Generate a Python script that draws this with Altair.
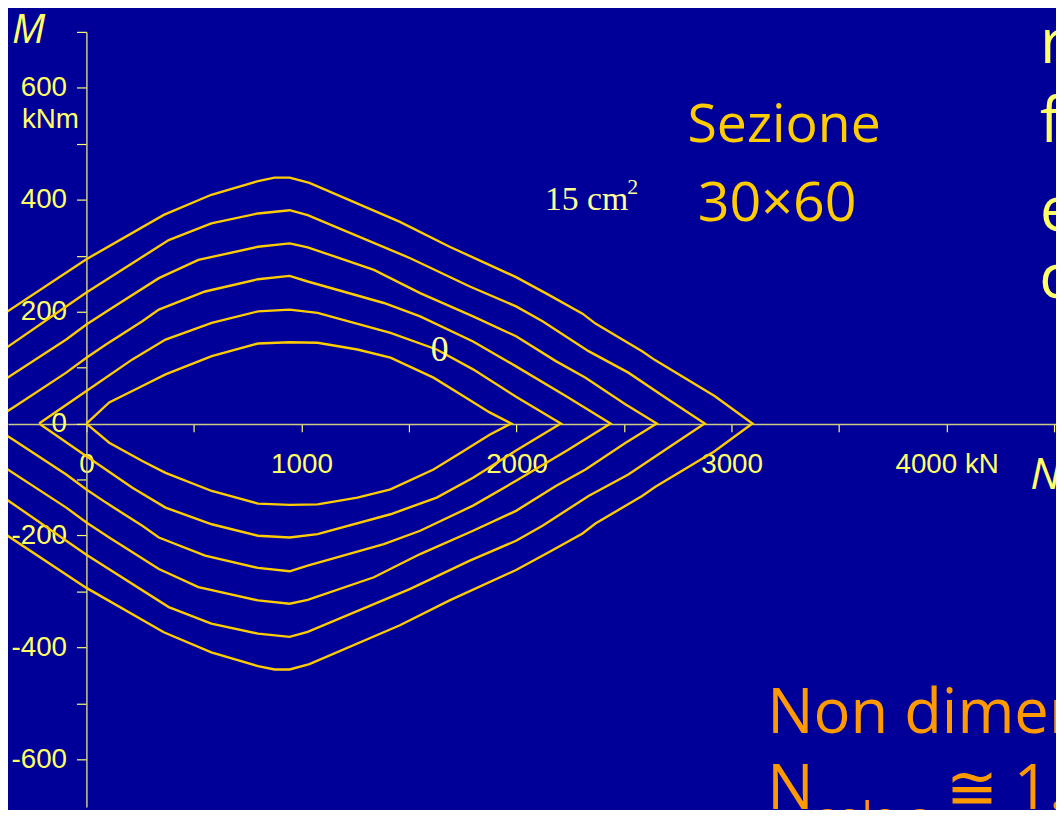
import altair as alt
import pandas as pd

# ---- data (N in kN, M in kNm) ----
# curve 1 : As = 0 (label "0")
N1 = [0, 106, 260, 368, 583, 798, 945, 1075, 1260, 1414, 1614, 1752, 1875, 1975]
M1_up = [0, 37.7, 67.2, 88, 120.5, 143.1, 145.4, 144.4, 132.4, 117.7, 82.1, 49.4, 19.9, 0]
M1_lo = [0, -34.3, -66.9, -88, -120.5, -143.1, -145.4, -144.4, -132.4, -117.7, -82.1, -49.4, -19.9, 0]

N2 = [-220, 0, 214, 368, 583, 798, 945, 1075, 1414, 1629, 1798, 1998, 2206]
M2_up = [0, 58.3, 114.7, 150.2, 180, 200.5, 203.6, 197.7, 162.1, 132.4, 96.9, 48, 0]
M2_lo = [0, -58.3, -114.7, -150.2, -180, -200.5, -203.6, -197.7, -162.1, -132.4, -96.9, -48, 0]

N3 = [-401.5, -340, -93.7, 0, 91, 260, 337, 552, 798, 945, 1029, 1383, 1552, 1798, 1998, 2229, 2437]
M3_up = [13.9, 28.8, 91, 117.7, 141.3, 182.8, 203.6, 236, 258, 264, 253.9, 215.5, 191.6, 146.7, 102.2, 49.4, 0]
M3_lo = [-13.9, -28.8, -91, -117.7, -141.3, -182.8, -203.6, -236, -258, -264, -253.9, -215.5, -191.6, -146.7, -102.2, -49.4, 0]

N4 = [-401.5, -93.7, 0, 106, 337, 521, 798, 945, 1029, 1337, 1552, 1798, 1998, 2183, 2321, 2506, 2652]
M4_up = [73.2, 150.2, 176.9, 203.6, 259.9, 292.4, 316, 322, 315, 274.7, 233.2, 191.6, 156, 111.6, 82, 34.7, 0]
M4_lo = [-73.2, -150.2, -176.9, -203.6, -259.9, -292.4, -316, -322, -315, -274.7, -233.2, -191.6, -156, -111.6, -82, -34.7, 0]

N5 = [-401.5, 0, 383, 581, 798, 945, 1029, 1506, 1783, 1998, 2121, 2335, 2520, 2704, 2875]
M5_up = [127.6, 234.3, 328, 357.7, 375.5, 381.3, 372.4, 295.5, 245, 209.4, 182.8, 129.4, 91, 43.6, 0]
M5_lo = [-127.6, -234.3, -328, -357.7, -375.5, -381.3, -372.4, -295.5, -245, -209.4, -182.8, -129.4, -91, -43.6, 0]

# curve 6 : As = 15 cm2
N6 = [-401.5, 0, 360, 581, 798, 875, 945, 1037, 1458, 1689, 1998, 2150, 2307, 2367, 2584, 2644, 2921, 3097]
M6_up = [191.6, 293.7, 373, 408.9, 433.4, 439.5, 439.5, 430, 360.5, 316, 261.7, 230, 196.4, 178.7, 129.4, 113.4, 49.4, 0]
M6_lo = [-191.6, -293.7, -373, -408.9, -433.4, -439.5, -439.5, -430, -360.5, -316, -261.7, -230, -196.4, -178.7, -129.4, -113.4, -49.4, 0]

curve_names = ["0", "3", "6", "9", "12", "15"]

x_ticks = [0, 500, 1000, 1500, 2000, 2500, 3000, 3500, 4000, 4500]
x_label_values = [0, 1000, 2000, 3000, 4000]
x_label_texts = ["0", "1000", "2000", "3000", "4000 kN"]
y_ticks = [-700, -600, -500, -400, -300, -200, -100, 0, 100, 200, 300, 400, 500, 600, 700]
y_label_values = [-600, -400, -200, 0, 200, 400, 600]

# ---- build table ----
rows = []
for name, N, Mu, Ml in zip(curve_names, [N1, N2, N3, N4, N5, N6],
                           [M1_up, M2_up, M3_up, M4_up, M5_up, M6_up],
                           [M1_lo, M2_lo, M3_lo, M4_lo, M5_lo, M6_lo]):
    k = 0
    for n, m in zip(N, Mu):
        rows.append({"curve": name, "seq": k, "N": n, "M": m}); k += 1
    for n, m in zip(reversed(N), reversed(Ml)):
        rows.append({"curve": name, "seq": k, "N": n, "M": m}); k += 1
df = pd.DataFrame(rows)

BG = "#000099"
GOLD = "#FFCC00"
PALE = "#FFFF66"
AXIS = "#CCCC88"

W, H = 1056, 781

xl = "[" + ",".join(str(v) for v in x_label_values) + "]"
xt = "[" + ",".join("'" + t + "'" for t in x_label_texts) + "]"
x_expr = f"indexof({xl}, datum.value) >= 0 ? {xt}[indexof({xl}, datum.value)] : ''"
yl = "[" + ",".join(str(v) for v in y_label_values) + "]"
y_expr = f"indexof({yl}, datum.value) >= 0 ? '' + datum.value : ''"

x_axis = alt.Axis(values=x_ticks, labelExpr=x_expr, offset=-386, tickSize=8,
                  tickColor=PALE, domainColor=AXIS, domainWidth=1.5, tickWidth=1.2,
                  labelColor=PALE, labelFont="Liberation Sans", labelFontSize=28,
                  labelPadding=19, grid=False, title=None, labelOverlap=False,
                  labelFlush=False)
y_axis = alt.Axis(values=y_ticks, labelExpr=y_expr, offset=-79, tickSize=10,
                  tickColor=PALE, domainColor=AXIS, domainWidth=1.5, tickWidth=1.2,
                  labelColor=PALE, labelFont="Liberation Sans", labelFontSize=28,
                  labelPadding=10, grid=False, title=None, labelOverlap=False,
                  labelFlush=False)

lines = alt.Chart(df).mark_line(color=GOLD, strokeWidth=2.4, clip=True).encode(
    x=alt.X("N:Q", scale=alt.Scale(domain=[-364.6, 4508.5], nice=False, zero=False), axis=x_axis),
    y=alt.Y("M:Q", scale=alt.Scale(domain=[-685.2, 700], nice=False, zero=False), axis=y_axis),
    detail="curve:N",
    order="seq:Q",
)


def note(text, x, y, size, color, font, align="left", style="normal", baseline="alphabetic"):
    return alt.Chart(pd.DataFrame({"t": [text]})).mark_text(
        align=align, baseline=baseline, fontSize=size, color=color, font=font,
        fontStyle=style
    ).encode(text="t:N", x=alt.value(x), y=alt.value(y))


COMIC = "Comic Sans MS, Open Sans"
notes = [
    note("M", 4, 11, 40, PALE, COMIC, style="italic"),
    note("kNm", 14, 89, 28, PALE, "Liberation Sans", baseline="middle"),
    note("Sezione", 782, 111, 54, GOLD, COMIC, align="center"),
    note("30×60", 775, 191, 56, GOLD, COMIC, align="center"),
    note("15 cm", 541, 179, 34, "#FFFF99", "Liberation Serif"),
    note("2", 624, 163, 22, "#FFFF99", "Liberation Serif"),
    note("0", 435, 332, 36, "#FFFF99", "Liberation Serif", align="center"),
    note("r", 1040, 31, 62, PALE, COMIC),
    note("f", 1040, 111, 62, PALE, COMIC),
    note("e", 1040, 201, 62, PALE, COMIC),
    note("c", 1039, 268, 62, PALE, COMIC),
    note("N", 1030, 461, 44, PALE, COMIC, style="italic"),
    note("Non dimen", 765, 706, 62, "#FF9900", COMIC),
    note("N", 765, 783, 62, "#FF9900", COMIC),
    note("solo a", 815, 806, 42, "#FF9900", COMIC),
    note("≅ 1.5", 945, 783, 62, "#FF9900", COMIC),
]

chart = alt.layer(lines, *notes).properties(
    width=W, height=H,
    padding={"left": 0, "top": 21, "right": 0, "bottom": 0},
    autosize=alt.AutoSizeParams(type="none", contains="content"),
    background=BG,
).configure_view(stroke=None)

chart.save("out.html", embed_options={"renderer": "svg", "actions": False})
